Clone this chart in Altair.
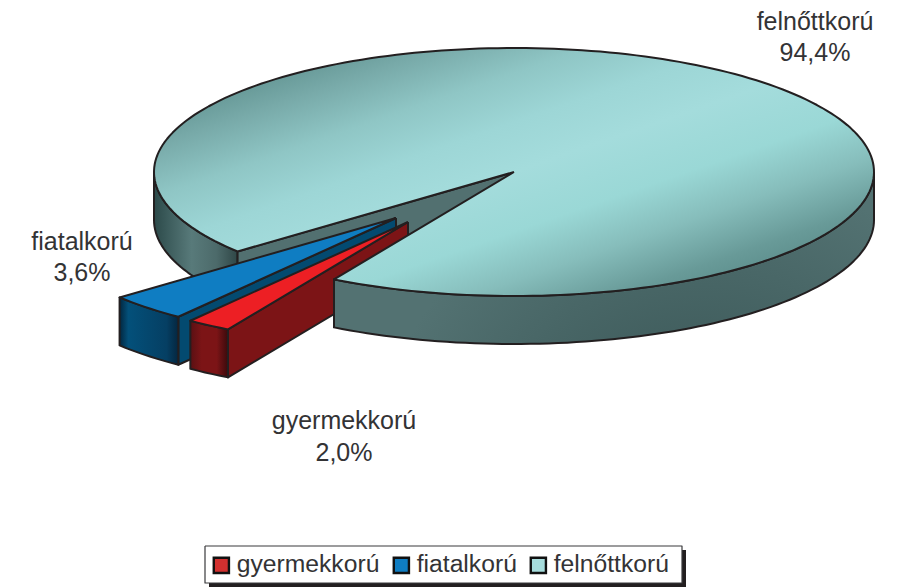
import numpy as np
import pandas as pd
import altair as alt

categories = ["gyermekkorú", "fiatalkorú", "felnőttkorú"]
shares = [2.0, 3.6, 94.4]
labels = ["2,0%", "3,6%", "94,4%"]
legend_colors = ["#d2302f", "#0f7dc2", "#a6dcdc"]

CX, CY, RX, RY, DEPTH = 514, 172, 360, 124, 48
START = 120.0
APEX = {"gyermekkorú": (408, 222), "fiatalkorú": (396, 218)}
INK = "#231f20"

# slice angles from the shares
sweeps = [s * 3.6 for s in shares]
t0 = START
t1 = t0 + sweeps[0]
t2 = t1 + sweeps[1]


def arc(cx, cy, a, b, dy=0):
    n = max(2, int(abs(b - a) / 1.5) + 2)
    ts = np.radians(np.linspace(a, b, n))
    return [(cx + RX * np.cos(t), cy + RY * np.sin(t) + dy) for t in ts]


def grad(stops, x1=0.0, y1=0.0, x2=1.0, y2=0.0):
    return alt.Gradient(
        gradient="linear", x1=x1, y1=y1, x2=x2, y2=y2,
        stops=[alt.GradientStop(offset=o, color=c) for o, c in stops],
    )


def radial(stops, x, y, r):
    return alt.Gradient(
        gradient="radial", x1=x, y1=y, x2=x, y2=y, r1=0, r2=r,
        stops=[alt.GradientStop(offset=o, color=c) for o, c in stops],
    )


X = alt.X("x:Q", scale=alt.Scale(domain=[8, 890], range=[0, 882]), axis=None)
Y = alt.Y("y:Q", scale=alt.Scale(domain=[8, 588], range=[0, 580]), axis=None)


def poly(points, fill, sw=2.0, stroke=INK):
    pts = list(points) + [points[0]]
    df = pd.DataFrame({"x": [p[0] for p in pts], "y": [p[1] for p in pts], "i": range(len(pts))})
    return alt.Chart(df).mark_line(
        fill=fill, stroke=stroke, strokeWidth=sw, strokeJoin="round", clip=False
    ).encode(x=X, y=Y, order=alt.Order("i:Q"))


def wall(a, b, fill, cx=CX, cy=CY):
    top = arc(cx, cy, a, b)
    bot = arc(cx, cy, a, b, DEPTH)
    return poly(top + bot[::-1], fill)


def sector(cx, cy, a, b, fill):
    return poly([(cx, cy)] + arc(cx, cy, a, b), fill)


def face(cx, cy, t, fill):
    e = arc(cx, cy, t, t)[0]
    return poly([(cx, cy), e, (e[0], e[1] + DEPTH), (cx, cy + DEPTH)], fill)


layers = []

# carries the legend; hidden under the disc
leg_df = pd.DataFrame({"cat": categories, "x": [CX] * 3, "y": [CY - 40] * 3})
legend_layer = alt.Chart(leg_df).mark_square(size=4, opacity=1).encode(
    x=X, y=Y,
    color=alt.Color("cat:N", scale=alt.Scale(domain=categories, range=legend_colors), sort=categories,
        legend=alt.Legend(
            title=None, orient="none", legendX=194, legendY=538, direction="horizontal", columns=3,
            symbolType="square", symbolSize=230, symbolStrokeColor="#111111", symbolStrokeWidth=2.4,
            symbolOpacity=1, labelFontSize=24.7, labelFont="Liberation Sans", labelColor="#333335",
            labelOffset=3, columnPadding=8, padding=7, labelLimit=300, gridAlign="none", zindex=1,
        )),
)
layers.append(legend_layer)

# big slice back parts
layers.append(wall(t2, 180, grad([(0, "#2f4646"), (0.25, "#4c6a6a"), (0.55, "#587a7a"), (1, "#2c4a4a")], x1=1, x2=0)))
layers.append(face(CX, CY, t2, "#527070"))

# blue slice
bx, by = APEX["fiatalkorú"]
layers.append(face(bx, by, t1, "#034a70"))
layers.append(wall(t1, t2, grad([(0, "#04263f"), (0.2, "#053f63"), (0.85, "#03507a"), (1, "#02263f")], x1=1, x2=0), bx, by))
layers.append(sector(bx, by, t1, t2, "#0f7dc2"))

# red slice
rx, ry = APEX["gyermekkorú"]
layers.append(face(rx, ry, t0, "#7c1416"))
layers.append(wall(t0, t1, grad([(0, "#3a0a0c"), (0.3, "#7c1416"), (0.7, "#7c1416"), (1, "#5a1013")], x1=1, x2=0), rx, ry))
layers.append(sector(rx, ry, t0, t1, "#ed1f24"))

# big slice front and top
layers.append(wall(0, t0, radial([(0, "#2f4b4b"), (0.4, "#3f5c5c"), (1, "#537272")], 0.68, 0.95, 0.62)))
layers.append(poly(
    [(CX, CY)] + arc(CX, CY, t2, t0 + 360),
    grad([(0.1, "#5c8e8c"), (0.2, "#78aaa9"), (0.3, "#8fc6c5"), (0.4, "#9dd6d6"), (0.5, "#a4dcdc"),
          (0.62, "#9ad8d6"), (0.72, "#86bdbb"), (0.82, "#689a98"), (0.95, "#4f7f7d")],
         x1=0.0, y1=0.0, x2=1.0, y2=1.0),
))

# legend frame
layers.append(poly([(209, 550), (686, 550), (686, 587), (209, 587)], INK, sw=0))
layers.append(poly([(205, 546), (682, 546), (682, 583), (205, 583)], "white", sw=1.2, stroke="#3a3a3c"))

# labels
lab_df = pd.DataFrame({
    "x": [344, 82, 815, 344, 82, 815],
    "y": [421, 241.5, 22, 453, 272.5, 53],
    "t": categories + labels,
})
layers.append(alt.Chart(lab_df).mark_text(font="Liberation Sans", fontSize=25, color="#333335", align="center", baseline="middle")
              .encode(x=X, y=Y, text="t:N"))

chart = alt.layer(*layers).properties(
    width=882, height=580, padding=0, autosize=alt.AutoSizeParams(type="none"),
    background="white",
).configure_view(stroke=None).configure_legend(strokeColor="transparent")

chart.save("out.html", embed_options={"renderer": "svg", "actions": False})
